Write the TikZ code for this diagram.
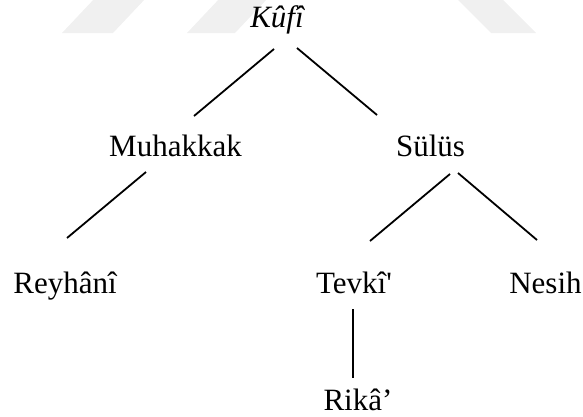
\documentclass[tikz,border=0pt]{standalone}
\usepackage{fontspec}
\setmainfont{Liberation Serif}
\usetikzlibrary{calc}
\definecolor{markgray}{RGB}{240,240,240}
\tikzset{
  label/.style={anchor=base, inner sep=0pt, font=\fontsize{31}{36}\selectfont},
  branch/.style={line width=1.8pt, line cap=butt},
  mark/.style={fill=markgray, draw=none}
}
\begin{document}
\begin{tikzpicture}[x=1pt,y=-1pt]
  \useasboundingbox (0,0) rectangle (583,416);
  % faint slanted bands along the top edge
  \begin{scope}
    \clip (0,0) rectangle (583,416);
    \fill[markgray] (62,33) -- (113,33) -- (146,-2) -- (95,-2) -- cycle;
    \fill[markgray] (187,33) -- (235,33) -- (268,-2) -- (220,-2) -- cycle;
    \fill[markgray] (491,33) -- (536,33) -- (501,-2) -- (456,-2) -- cycle;
  \end{scope}

  % labels
  \node[label] (kufi) at (277,27) {\itshape Kûfî};
  \node[label] (muh)  at (175.5,156) {Muhakkak};
  \node[label] (sul)  at (430.5,156) {Sülüs};
  \node[label] (rey)  at (65,293) {Reyhânî};
  \node[label] (tev)  at (354,293) {Tevkî\textquotesingle};
  \node[label] (nes)  at (545.5,293) {Nesih};
  \node[label] (rik)  at (358,410) {Rikâ’};

  % branches
  \draw[branch] ($(kufi.base)+(-3,22)$) -- ($(muh.base)+(18.5,-40)$);
  \draw[branch] ($(kufi.base)+(20,21)$) -- ($(sul.base)+(-53.5,-41)$);
  \draw[branch] ($(muh.base)+(-29.5,16)$) -- ($(rey.base)+(2,-55)$);
  \draw[branch] ($(sul.base)+(19.5,18)$) -- ($(tev.base)+(16,-52)$);
  \draw[branch] ($(sul.base)+(27.5,17)$) -- ($(nes.base)+(-8.5,-53)$);
  \draw[branch] ($(tev.base)+(-1,16)$) -- ($(rik.base)+(-5,-32)$);
\end{tikzpicture}
\end{document}
